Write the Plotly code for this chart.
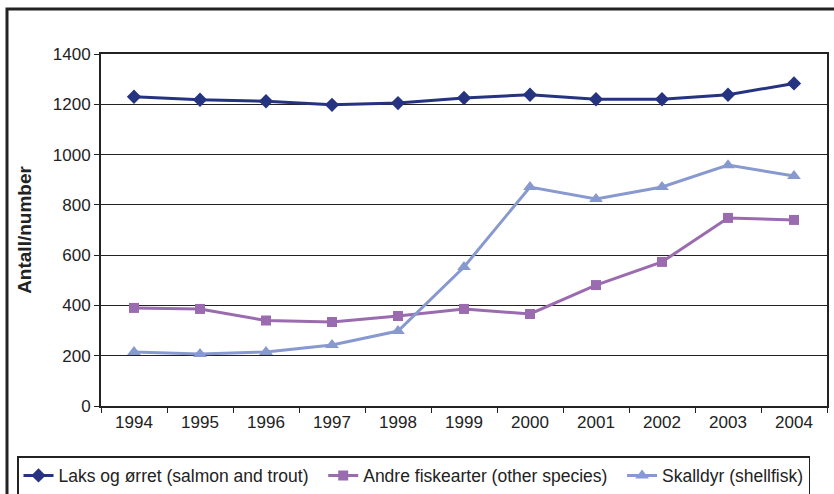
import plotly.graph_objects as go

years = ["1994", "1995", "1996", "1997", "1998", "1999", "2000", "2001", "2002", "2003", "2004"]
laks = [1230, 1218, 1212, 1198, 1205, 1225, 1238, 1220, 1220, 1238, 1283]
andre = [390, 386, 340, 334, 358, 386, 366, 481, 573, 748, 740]
skalldyr = [215, 207, 215, 243, 298, 553, 871, 823, 871, 958, 915]

names = ["Laks og ørret (salmon and trout)", "Andre fiskearter (other species)", "Skalldyr (shellfisk)"]
colors = ["#253380", "#9B6BB0", "#8899D0"]
symbols = ["diamond", "square", "triangle-up"]
sizes = [11, 10, 12]
pads = ["\u00a0\u00a0", "\u00a0\u00a0", ""]

fig = go.Figure()
for vals, name, c, s, sz, pad in zip([laks, andre, skalldyr], names, colors, symbols, sizes, pads):
    fig.add_trace(go.Scatter(x=years, y=vals, name=name + pad, mode="lines+markers",
                             line=dict(color=c, width=3),
                             marker=dict(symbol=s, size=sz, color=c)))

L, R, T, B = 101, 827, 54, 406
W, H = R - L, B - T
def px(x):
    return (x - L) / W
def py(y):
    return (B - y) / H

fig.update_layout(
    width=834, height=494,
    margin=dict(l=L, r=834 - R, t=T, b=494 - B, autoexpand=False),
    paper_bgcolor="white", plot_bgcolor="white",
    font=dict(family="Liberation Sans, Arial", size=17, color="#222"),
    showlegend=True,
    legend=dict(orientation="h", x=px(17), y=py(456), xanchor="left", yanchor="top",
                bordercolor="#222", borderwidth=1.5, bgcolor="white",
                font=dict(size=17.5), itemwidth=30, tracegroupgap=0),
    xaxis=dict(type="category", showgrid=False, showline=True, linecolor="#222", linewidth=2,
               mirror=True, ticks="outside", tickson="boundaries", ticklen=5, tickcolor="#222",
               tickfont=dict(size=17), range=[-0.5, 10.5], automargin=False),
    yaxis=dict(range=[0, 1400], dtick=200, showgrid=True, gridcolor="#222", gridwidth=1,
               showline=True, linecolor="#222", linewidth=2, mirror=True,
               ticks="outside", ticklen=5, tickcolor="#222", zeroline=False,
               tickfont=dict(size=17), automargin=False,
               title=dict(text="<b>Antall/number</b>", font=dict(size=19), standoff=16)),
    shapes=[dict(type="rect", xref="paper", yref="paper",
                 x0=px(7), x1=px(840), y0=py(520), y1=py(9),
                 line=dict(color="#222", width=3), layer="below")],
)

fig.write_html("out.html", config={"displayModeBar": False},
               post_script="document.body.style.margin='0';document.body.style.overflow='hidden';")
